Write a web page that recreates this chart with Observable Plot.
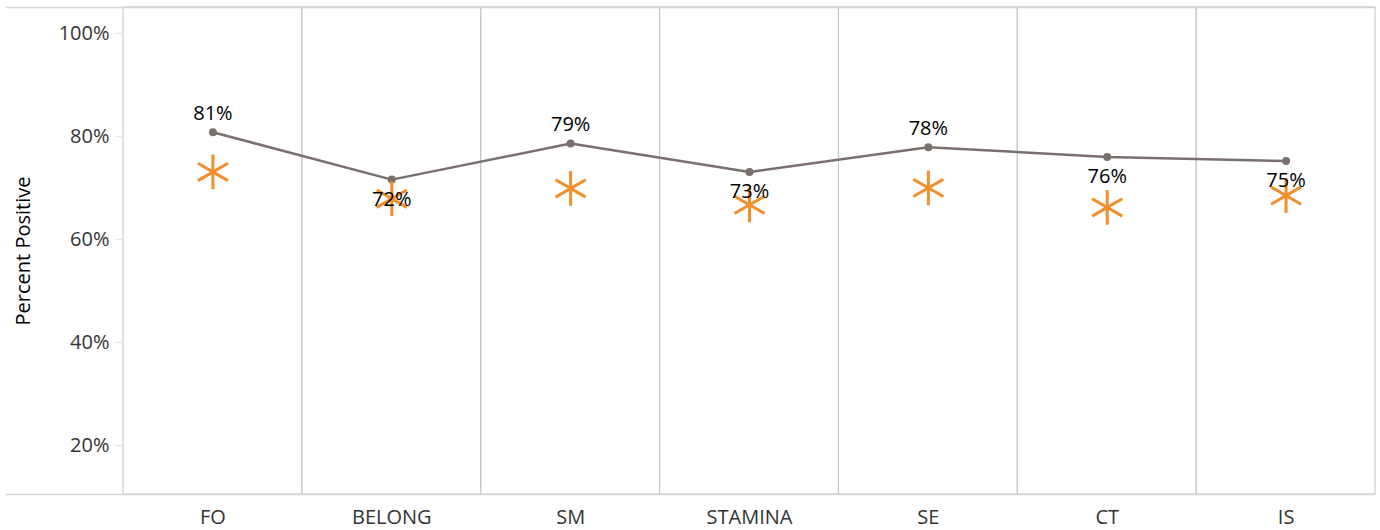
<!DOCTYPE html>
<html>
<head>
<meta charset="utf-8">
<script src="https://cdn.jsdelivr.net/npm/d3@7"></script>
<script src="https://cdn.jsdelivr.net/npm/@observablehq/plot@0.6"></script>
<style>
  html, body { margin: 0; padding: 0; background: #fff; }
  #chart { width: 1380px; height: 530px; }
</style>
</head>
<body>
<div id="chart"></div>
<script>
const categories = ["FO", "BELONG", "SM", "STAMINA", "SE", "CT", "IS"];
const lineValues = [0.808, 0.716, 0.786, 0.731, 0.779, 0.760, 0.752];
const markerValues = [0.731, 0.679, 0.699, 0.667, 0.700, 0.662, 0.685];
const labelSide = ["above", "below", "above", "below", "above", "below", "below"];
const yTicks = [0.2, 0.4, 0.6, 0.8, 1.0];
const yDomain = [0.105, 1.05];
const yLabel = "Percent Positive";

const data = categories.map((c, i) => ({
  cat: c, line: lineValues[i], marker: markerValues[i], side: labelSide[i]
}));
const pct = d3.format(".0%");
const font = "'Open Sans', 'Noto Sans', sans-serif";

const chart = Plot.plot({
  width: 1380,
  height: 530,
  marginLeft: 123,
  marginRight: 5,
  marginTop: 7,
  marginBottom: 36,
  style: { fontFamily: font, background: "#fff" },
  x: { type: "band", domain: categories, padding: 0, round: false, axis: null },
  y: { domain: yDomain, axis: null },
  marks: [
    Plot.barY(categories, {
      x: d => d, y1: yDomain[0], y2: yDomain[1],
      fill: "none", stroke: "#c4c4c4", strokeWidth: 1
    }),
    Plot.ruleY(yDomain, { stroke: "#d4d4d4", strokeWidth: 1.5, insetLeft: -117 }),
    Plot.axisY({
      ticks: yTicks, tickFormat: pct, tickSize: 8, tickPadding: 6,
      stroke: "#e2e2e2", fill: "#333", fontSize: 20, label: null
    }),
    Plot.axisY({
      ticks: [], label: yLabel, labelAnchor: "center", labelArrow: "none",
      labelOffset: 108, fill: "#000", fontSize: 20
    }),
    Plot.axisX({
      tickSize: 0, tickPadding: 15, fill: "#333", fontSize: 20, label: null
    }),
    Plot.line(data, { x: "cat", y: "line", stroke: "#79706e", strokeWidth: 2.5 }),
    Plot.dot(data, { x: "cat", y: "line", r: 4, fill: "#79706e" }),
    Plot.dot(data, {
      x: "cat", y: "marker", symbol: "asterisk", r: 16.5,
      stroke: "#f28e2b", strokeWidth: 3
    }),
    Plot.text(data.filter(d => d.side === "above"), {
      x: "cat", y: "line", text: d => pct(d.line), dy: -19,
      fontSize: 20, fill: "#000"
    }),
    Plot.text(data.filter(d => d.side === "below"), {
      x: "cat", y: "line", text: d => pct(d.line), dy: 20,
      fontSize: 20, fill: "#000"
    })
  ]
});
document.getElementById("chart").appendChild(chart);
</script>
</body>
</html>
